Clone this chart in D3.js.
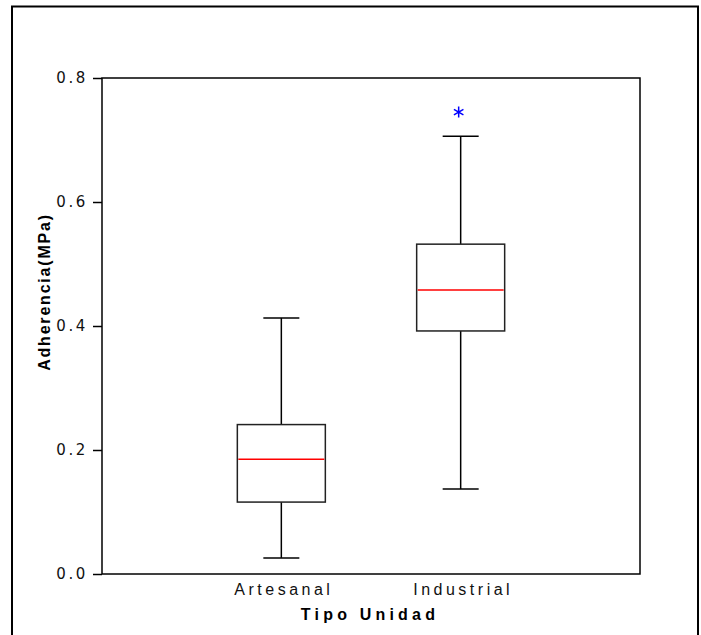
<!DOCTYPE html>
<html>
<head>
<meta charset="utf-8">
<script src="https://cdn.jsdelivr.net/npm/d3@7"></script>
<style>
  body { margin: 0; background: #fff; }
  svg { display: block; font-family: Arial, "Liberation Sans", sans-serif; }
</style>
</head>
<body>
<div id="container"></div>
<script>
/* CONSTANTS AND GLOBALS */
const width = 701;
const height = 635;
const plot = { left: 102, top: 78, right: 640, bottom: 574 };

/* DATA */
const categories = ["Artesanal", "Industrial"];
const whiskerLow = [0.026, 0.137];
const q1 = [0.116, 0.392];
const medians = [0.185, 0.458];
const q3 = [0.241, 0.532];
const whiskerHigh = [0.413, 0.706];
const outliers = [[], [0.745]];
const yTicks = [0, 0.2, 0.4, 0.6, 0.8];

const boxes = categories.map((c, i) => ({
  cat: c, lo: whiskerLow[i], q1: q1[i], med: medians[i], q3: q3[i], hi: whiskerHigh[i], out: outliers[i]
}));

const svg = d3.select("#container").append("svg")
  .attr("width", width)
  .attr("height", height);

// outer frame
svg.append("rect")
  .attr("x", 12).attr("y", 6.5)
  .attr("width", 686).attr("height", 640)
  .attr("fill", "none")
  .attr("stroke", "#000")
  .attr("stroke-width", 2);

/* SCALES */
const xScale = d3.scalePoint()
  .domain(categories)
  .range([plot.left, plot.right])
  .padding(1);

const yScale = d3.scaleLinear()
  .domain([0, 0.8])
  .range([plot.bottom, plot.top]);

// plot frame
svg.append("rect")
  .attr("x", plot.left).attr("y", plot.top)
  .attr("width", plot.right - plot.left)
  .attr("height", plot.bottom - plot.top)
  .attr("fill", "none")
  .attr("stroke", "#000")
  .attr("stroke-width", 1.5);

/* AXES */
const yAxis = d3.axisLeft(yScale)
  .tickValues(yTicks)
  .tickFormat(d3.format(".1f"))
  .tickSize(9)
  .tickPadding(5);

const gy = svg.append("g")
  .attr("transform", `translate(${plot.left},0)`)
  .call(yAxis);
gy.select(".domain").remove();
gy.selectAll("line").attr("stroke", "#000").attr("stroke-width", 1.5);
gy.selectAll("text")
  .attr("fill", "#111")
  .style("font-size", "15px")
  .style("letter-spacing", "2.6px")
  .style("font-family", "'DejaVu Sans', Verdana, sans-serif");

const xAxis = d3.axisBottom(xScale)
  .tickSize(0)
  .tickPadding(10);

const gx = svg.append("g")
  .attr("transform", `translate(0,${plot.bottom})`)
  .call(xAxis);
gx.select(".domain").remove();
gx.selectAll("text")
  .attr("fill", "#111")
  .attr("dx", 2)
  .style("font-size", "16px")
  .style("letter-spacing", "3.5px")
  .style("font-family", "Arial, 'Liberation Sans', sans-serif");

/* AXIS TITLES */
svg.append("text")
  .attr("x", 370)
  .attr("y", 620)
  .attr("text-anchor", "middle")
  .style("font-size", "16px")
  .style("font-weight", "bold")
  .style("letter-spacing", "4.2px")
  .text("Tipo Unidad");

svg.append("text")
  .attr("transform", "translate(50,292) rotate(-90)")
  .attr("text-anchor", "middle")
  .style("font-size", "16px")
  .style("font-weight", "bold")
  .style("letter-spacing", "1.8px")
  .text("Adherencia(MPa)");

/* BOXES */
const boxW = 88;
const capW = 36;

const g = svg.selectAll("g.box")
  .data(boxes)
  .join("g")
  .attr("class", "box");

// whiskers
g.append("line")
  .attr("x1", d => xScale(d.cat)).attr("x2", d => xScale(d.cat))
  .attr("y1", d => yScale(d.q3)).attr("y2", d => yScale(d.hi))
  .attr("stroke", "#000").attr("stroke-width", 1.5);
g.append("line")
  .attr("x1", d => xScale(d.cat)).attr("x2", d => xScale(d.cat))
  .attr("y1", d => yScale(d.q1)).attr("y2", d => yScale(d.lo))
  .attr("stroke", "#000").attr("stroke-width", 1.5);
// caps
g.append("line")
  .attr("x1", d => xScale(d.cat) - capW / 2).attr("x2", d => xScale(d.cat) + capW / 2)
  .attr("y1", d => yScale(d.hi)).attr("y2", d => yScale(d.hi))
  .attr("stroke", "#000").attr("stroke-width", 1.5);
g.append("line")
  .attr("x1", d => xScale(d.cat) - capW / 2).attr("x2", d => xScale(d.cat) + capW / 2)
  .attr("y1", d => yScale(d.lo)).attr("y2", d => yScale(d.lo))
  .attr("stroke", "#000").attr("stroke-width", 1.5);
// box
g.append("rect")
  .attr("x", d => xScale(d.cat) - boxW / 2)
  .attr("y", d => yScale(d.q3))
  .attr("width", boxW)
  .attr("height", d => yScale(d.q1) - yScale(d.q3))
  .attr("fill", "#fff")
  .attr("stroke", "#222").attr("stroke-width", 1.5);
// median
g.append("line")
  .attr("x1", d => xScale(d.cat) - boxW / 2 + 1).attr("x2", d => xScale(d.cat) + boxW / 2 - 1)
  .attr("y1", d => yScale(d.med)).attr("y2", d => yScale(d.med))
  .attr("stroke", "#ff0000").attr("stroke-width", 1.5);

// outliers drawn as asterisks
const star = r => {
  const p = d3.path();
  for (let a = 0; a < 3; a++) {
    const t = Math.PI / 2 + a * Math.PI / 3;
    p.moveTo(-r * Math.cos(t), -r * Math.sin(t));
    p.lineTo(r * Math.cos(t), r * Math.sin(t));
  }
  return p.toString();
};

g.selectAll("path.out")
  .data(d => d.out.map(v => ({ cat: d.cat, v })))
  .join("path")
  .attr("class", "out")
  .attr("transform", d => `translate(${xScale(d.cat) - 2},${yScale(d.v)})`)
  .attr("d", star(5.5))
  .attr("stroke", "#0000ff")
  .attr("stroke-width", 1.5)
  .attr("fill", "none");
</script>
</body>
</html>
